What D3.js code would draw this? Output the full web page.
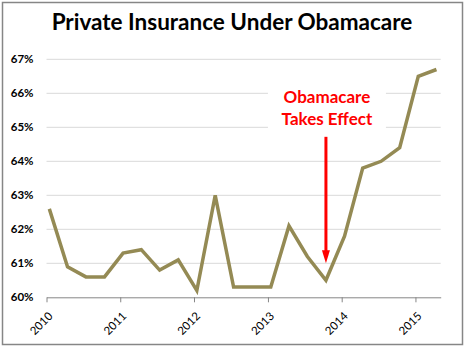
<!DOCTYPE html>
<html>
<head>
<meta charset="utf-8">
<script src="https://cdn.jsdelivr.net/npm/d3@7"></script>
<style>
  body { margin: 0; background: #fff; }
  svg { display: block; font-family: Lato, "Open Sans", sans-serif; }
</style>
</head>
<body>
<div id="chart"></div>
<script>
// quarterly readings
const dates = ['2010-01-15','2010-04-15','2010-07-15','2010-10-15',
               '2011-01-15','2011-04-15','2011-07-15','2011-10-15',
               '2012-01-15','2012-04-15','2012-07-15','2012-10-15',
               '2013-01-15','2013-04-15','2013-07-15','2013-10-15',
               '2014-01-15','2014-04-15','2014-07-15','2014-10-15',
               '2015-01-15','2015-04-15'];
const values = [62.6, 60.9, 60.6, 60.6, 61.3, 61.4, 60.8, 61.1,
                60.2, 63.0, 60.3, 60.3, 60.3, 62.1, 61.2, 60.5,
                61.8, 63.8, 64.0, 64.4, 66.5, 66.7];
const yTicks = [60, 61, 62, 63, 64, 65, 66, 67];
const xTicks = ['2010','2011','2012','2013','2014','2015'];
const title = 'Private Insurance Under Obamacare';
const noteLines = ['Obamacare', 'Takes Effect'];
const noteDate = '2013-10-15';
const noteTop = 64.72, noteTip = 61.0;

const width = 466, height = 348;
const parse = d3.timeParse('%Y-%m-%d');
const data = dates.map((d, i) => ({date: parse(d), value: values[i]}));

const svg = d3.select('#chart').append('svg')
  .attr('width', width)
  .attr('height', height);

svg.append('rect')
  .attr('x', 2.5).attr('y', 2.5)
  .attr('width', 460).attr('height', 342)
  .attr('fill', '#fff')
  .attr('stroke', '#868686')
  .attr('stroke-width', 1.5);

svg.append('text')
  .attr('x', 232).attr('y', 30)
  .attr('text-anchor', 'middle')
  .attr('font-weight', 'bold')
  .attr('font-size', 22.5)
  .attr('fill', '#000')
  .text(title);

const xScale = d3.scaleTime()
  .domain([new Date(2010, 0, 1), new Date(2015, 4, 6)])
  .range([46.5, 440.7]);

const yScale = d3.scaleLinear()
  .domain([60, 67])
  .range([297.3, 59.3]);

// gridlines
svg.append('g')
  .selectAll('line')
  .data(yTicks.slice(1))
  .enter()
  .append('line')
  .attr('x1', xScale.range()[0])
  .attr('x2', xScale.range()[1])
  .attr('y1', d => yScale(d))
  .attr('y2', d => yScale(d))
  .attr('stroke', '#d9d9d9')
  .attr('stroke-width', 1);

// y labels
const yAxis = d3.axisLeft(yScale)
  .tickValues(yTicks)
  .tickSize(0)
  .tickPadding(13)
  .tickFormat(d => d + '%');
const yg = svg.append('g')
  .attr('transform', `translate(${xScale.range()[0]}, 0)`)
  .call(yAxis);
yg.select('.domain').remove();
yg.selectAll('text')
  .attr('font-family', 'Lato, sans-serif')
  .attr('font-size', 11.5)
  .attr('font-weight', 'bold')
  .attr('fill', '#000');

// x axis
const xAxis = d3.axisBottom(xScale)
  .tickValues(xTicks.map(y => new Date(+y, 0, 1)))
  .tickSizeInner(5)
  .tickSizeOuter(0)
  .tickFormat(d3.timeFormat('%Y'));
const xg = svg.append('g')
  .attr('transform', `translate(0, ${yScale(60)})`)
  .call(xAxis);
xg.select('.domain').attr('stroke', '#868686');
xg.selectAll('.tick line').attr('stroke', '#868686');
xg.selectAll('text')
  .attr('font-family', 'Lato, sans-serif')
  .attr('font-size', 11.5)
  .attr('fill', '#000')
  .attr('text-anchor', 'end')
  .attr('dy', null)
  .attr('y', 0)
  .attr('transform', 'translate(6.5, 19.5) rotate(-45)');

// annotation background
const nx = xScale(parse(noteDate));
svg.append('rect')
  .attr('x', nx - 58).attr('y', 84)
  .attr('width', 118).attr('height', 50)
  .attr('fill', '#fff');

// the series
const line = d3.line()
  .x(d => xScale(d.date))
  .y(d => yScale(d.value));
svg.append('path')
  .datum(data)
  .attr('d', line)
  .attr('fill', 'none')
  .attr('stroke', '#948a54')
  .attr('stroke-width', 3.5)
  .attr('stroke-linejoin', 'miter');

// annotation
svg.append('g')
  .selectAll('text')
  .data(noteLines)
  .enter()
  .append('text')
  .attr('x', nx + 1)
  .attr('y', (d, i) => 103 + i * 22)
  .attr('text-anchor', 'middle')
  .attr('font-weight', 'bold')
  .attr('font-size', 17)
  .attr('fill', '#ff0000')
  .text(d => d);

const yTip = yScale(noteTip);
svg.append('line')
  .attr('x1', nx).attr('x2', nx)
  .attr('y1', yScale(noteTop)).attr('y2', yTip - 10)
  .attr('stroke', '#ff0000')
  .attr('stroke-width', 3);
svg.append('path')
  .attr('d', `M${nx - 4},${yTip - 13} L${nx + 4},${yTip - 13} L${nx},${yTip} Z`)
  .attr('fill', '#ff0000');
</script>
</body>
</html>
